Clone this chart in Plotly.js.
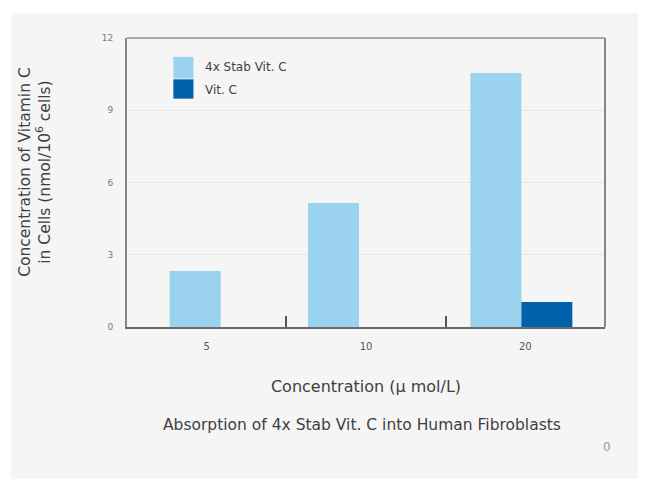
<!DOCTYPE html>
<html>
<head>
<meta charset="utf-8">
<script src="https://cdn.plot.ly/plotly-3.0.1.min.js"></script>
<style>
  html, body { margin: 0; padding: 0; background: #ffffff; }
  #chart { position: absolute; left: 11px; top: 13px; width: 627px; height: 466px; }
</style>
</head>
<body>
<div id="chart"></div>
<script>
const categories = ["5", "10", "20"];
const seriesNames = ["4x Stab Vit. C", "Vit. C"];
const stabVitC = [2.33, 5.15, 10.55];
const vitC = [null, null, 1.04];
const yTicks = [0, 3, 6, 9, 12];
const yTickLabels = ["0", "3", "6", "9", "12"];

const lightBlue = "#9bd2ee";
const darkBlue = "#0062aa";
const textColor = "#3f3f3f";

const traces = [
  {
    type: "bar", name: seriesNames[0], x: categories, y: stabVitC,
    marker: { color: lightBlue },
    width: 0.32, offset: [-0.232, -0.364, -0.345],
    hoverinfo: "x+y"
  },
  {
    type: "bar", name: seriesNames[1], x: categories, y: vitC,
    marker: { color: darkBlue },
    width: 0.32, offset: [0.088, -0.044, -0.025],
    hoverinfo: "x+y"
  }
];

const layout = {
  width: 627, height: 466,
  margin: { l: 116, r: 33, t: 25, b: 152 },
  paper_bgcolor: "#f5f5f5",
  plot_bgcolor: "#f5f5f5",
  font: { family: "DejaVu Sans, Liberation Sans, sans-serif", color: textColor },
  showlegend: false,
  barmode: "overlay",
  xaxis: {
    type: "category",
    range: [-0.5, 2.5],
    tickson: "boundaries",
    ticks: "inside", ticklen: 11, tickwidth: 2, tickcolor: "#555555",
    showline: true, linecolor: "#6f6a6a", linewidth: 2, mirror: false,
    showgrid: false,
    ticklabelstandoff: 9,
    tickfont: { size: 10, color: "#555555" },
    title: { text: "Concentration (μ mol/L)", font: { size: 16, color: textColor }, standoff: 30 }
  },
  yaxis: {
    range: [0, 12],
    tickvals: yTicks, ticktext: yTickLabels,
    ticks: "",
    showline: true, linecolor: "#8a8585", linewidth: 2, mirror: false,
    showgrid: true, gridcolor: "#e9e6e6", gridwidth: 1,
    zeroline: false,
    ticklabelstandoff: 10,
    tickfont: { size: 9, color: "#777777" }
  },
  shapes: [
    { type: "line", xref: "paper", yref: "paper", x0: 0, x1: 1, y0: 1, y1: 1, line: { color: "#aaaaaa", width: 2 } },
    { type: "line", xref: "paper", yref: "paper", x0: 1, x1: 1, y0: 0, y1: 1, line: { color: "#8a8585", width: 2 } },
    { type: "rect", xref: "paper", yref: "paper", x0: 0.097, x1: 0.139, y0: 0.86, y1: 0.935, fillcolor: lightBlue, line: { width: 0 } },
    { type: "rect", xref: "paper", yref: "paper", x0: 0.097, x1: 0.139, y0: 0.79, y1: 0.857, fillcolor: darkBlue, line: { width: 0 } }
  ],
  annotations: [
    { xref: "paper", yref: "paper", x: -0.193, y: 0.536, xanchor: "center", yanchor: "middle", textangle: -90, showarrow: false,
      text: "Concentration of Vitamin C<br>in Cells (nmol/10<sup>6</sup> cells)", font: { size: 15.5, color: textColor } },
    { xref: "paper", yref: "paper", x: 0.158, y: 0.90, xanchor: "left", yanchor: "middle", showarrow: false, text: seriesNames[0], font: { size: 12, color: textColor } },
    { xref: "paper", yref: "paper", x: 0.158, y: 0.82, xanchor: "left", yanchor: "middle", showarrow: false, text: seriesNames[1], font: { size: 12, color: textColor } },
    { xref: "paper", yref: "paper", x: 0.492, y: -0.339, xanchor: "center", yanchor: "middle", showarrow: false, text: "Absorption of 4x Stab Vit. C into Human Fibroblasts", font: { size: 15.5, color: textColor } },
    { xref: "paper", yref: "paper", x: 1.005, y: -0.415, xanchor: "center", yanchor: "middle", showarrow: false, text: "0", font: { size: 12, color: "#999999" } }
  ]
};

Plotly.newPlot("chart", traces, layout, { displayModeBar: false });
</script>
</body>
</html>
